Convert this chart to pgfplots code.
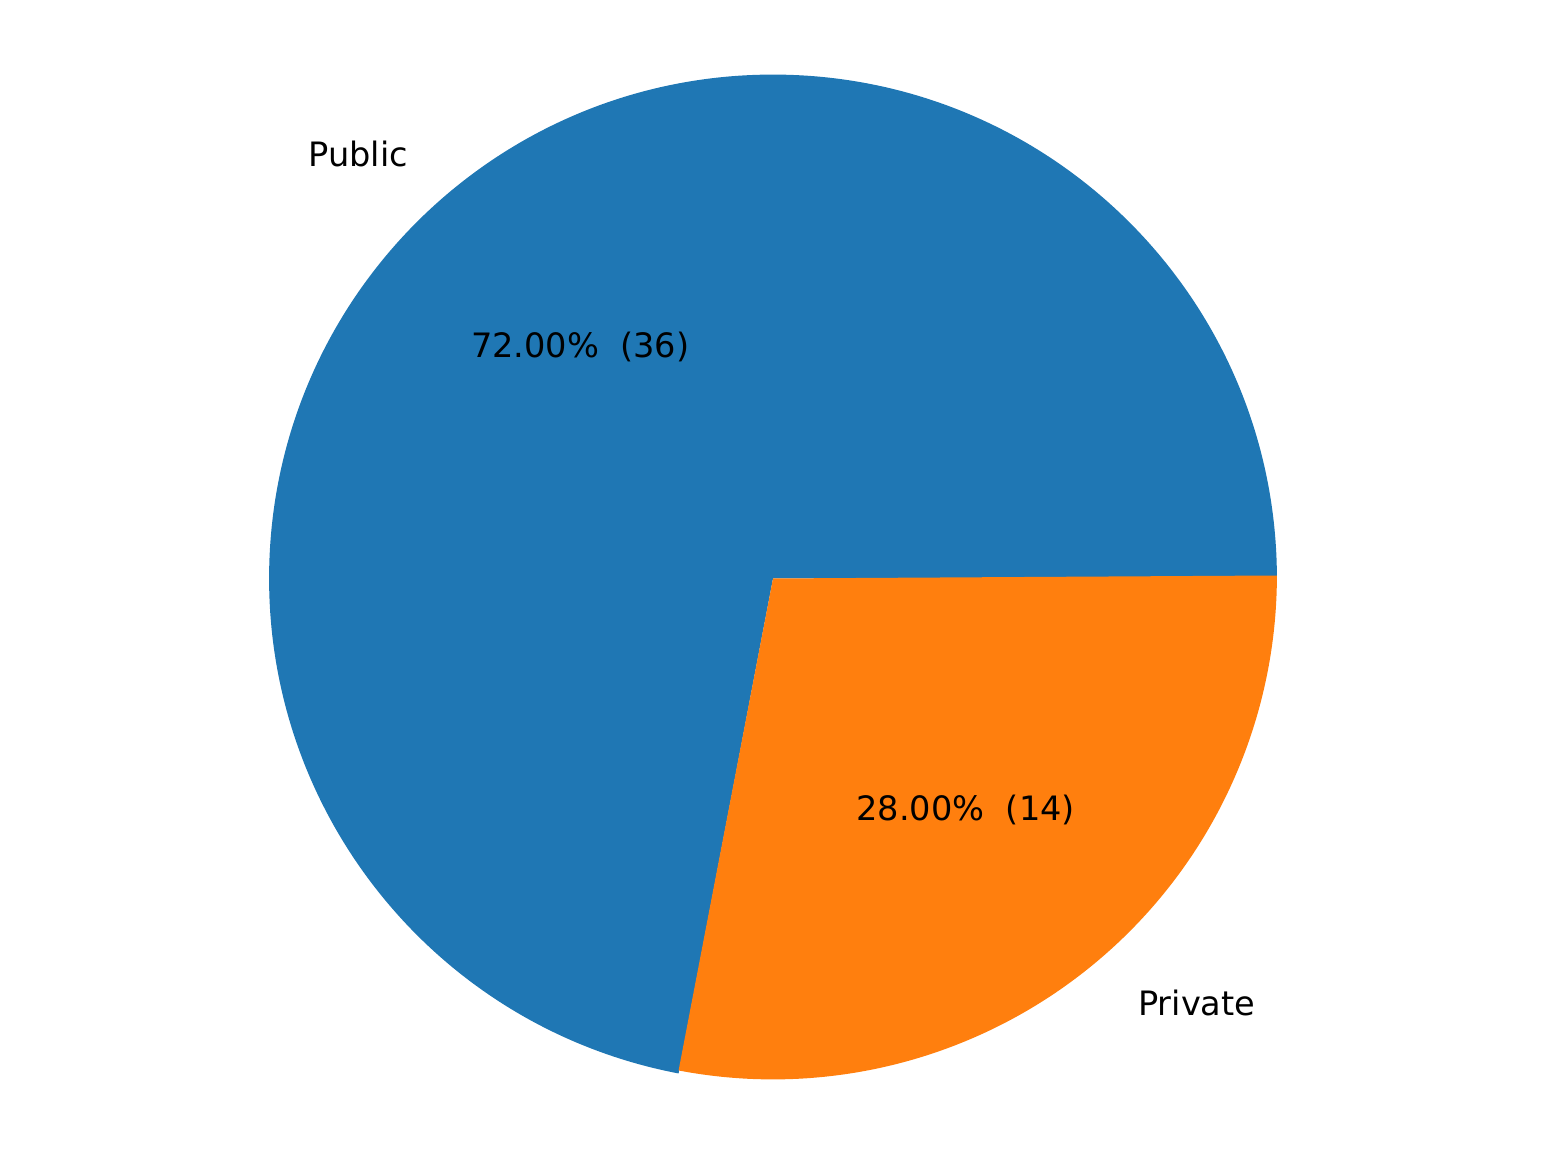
\documentclass[border=0pt]{standalone}
\usepackage{pgfplots}
\pgfplotsset{compat=1.18}
\usepackage{fontspec}
\setmainfont{DejaVu Sans}
\definecolor{c1}{HTML}{1F77B4}
\definecolor{c2}{HTML}{FF7F0E}
\begin{document}
\begin{tikzpicture}
\def\vA{36}\def\vB{14}
\pgfmathsetmacro{\aEnd}{360*\vA/(\vA+\vB)}
\pgfmathsetmacro{\ex}{cos(\aEnd)}\pgfmathsetmacro{\ey}{sin(\aEnd)}
\pgfmathsetmacro{\mA}{\aEnd/2}
\pgfmathsetmacro{\mB}{(\aEnd+360)/2}
\pgfmathsetmacro{\lAx}{1.1*cos(\mA)}\pgfmathsetmacro{\lAy}{1.1*sin(\mA)}
\pgfmathsetmacro{\lBx}{1.1*cos(\mB)}\pgfmathsetmacro{\lBy}{1.1*sin(\mB)}
\pgfmathsetmacro{\pAx}{0.6*cos(\mA)}\pgfmathsetmacro{\pAy}{0.6*sin(\mA)}
\pgfmathsetmacro{\pBx}{0.6*cos(\mB)}\pgfmathsetmacro{\pBy}{0.6*sin(\mB)}
\begin{axis}[width=460.8pt,height=345.6pt,scale only axis,hide axis,
  xmin=-1.534,xmax=1.538,ymin=-1.163,ymax=1.155,clip=false]
\fill[c1] (axis cs:0,0) -- (axis cs:1,0) arc[start angle=0,end angle=\aEnd,radius=150pt] -- cycle;
\fill[c2] (axis cs:0,0) -- (axis cs:\ex,\ey) arc[start angle=\aEnd,end angle=360,radius=150pt] -- cycle;
\node[anchor=east,font=\fontsize{10}{12}\selectfont] at (axis cs:\lAx,\lAy) {Public};
\node[anchor=west,font=\fontsize{10}{12}\selectfont] at (axis cs:\lBx,\lBy) {Private};
\node[font=\fontsize{10}{12}\selectfont] at (axis cs:\pAx,\pAy) {72.00\%\ \ (36)};
\node[font=\fontsize{10}{12}\selectfont] at (axis cs:\pBx,\pBy) {28.00\%\ \ (14)};
\end{axis}
\pgfresetboundingbox
\path (current axis.south west) rectangle (current axis.north east);
\end{tikzpicture}
\end{document}
